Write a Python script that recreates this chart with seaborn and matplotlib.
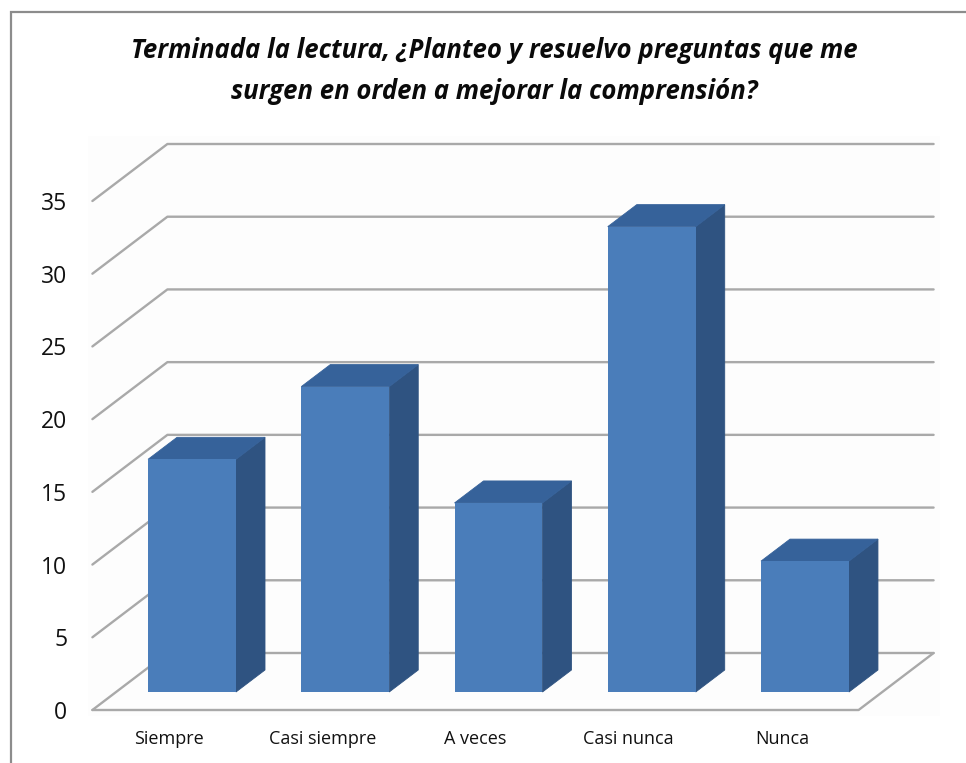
import matplotlib
matplotlib.use("Agg")
import matplotlib.pyplot as plt
import pandas as pd
import seaborn as sns
from matplotlib.lines import Line2D
from matplotlib.patches import Polygon, Rectangle
from matplotlib.transforms import Affine2D, IdentityTransform

categories = ["Siempre", "Casi siempre", "A veces", "Casi nunca", "Nunca"]
values = [16, 21, 13, 32, 9]
y_ticks = [0, 5, 10, 15, 20, 25, 30, 35]
title = ("Terminada la lectura, ¿Planteo y resuelvo preguntas que me\n"
         "surgen en orden a mejorar la comprensión?")

W, H = 966, 763
FRONT = "#4a7dba"
SIDE = "#2f5381"
TOP = "#36629a"
GRID = "#a9a9a9"

sns.set_theme(style="white")
plt.rcParams["font.family"] = ["Open Sans", "DejaVu Sans"]

fig = plt.figure(figsize=(W / 100, H / 100), dpi=100, facecolor="white")
# axes = plane of the bar fronts, in pixels from the top left
left, right, bottom, top = 115.4, 881.6, 692, 183
ax = fig.add_axes([left / W, 1 - bottom / H, (right - left) / W, (bottom - top) / H])
ax.patch.set_alpha(0)

data = pd.DataFrame({"cat": categories, "val": values})
sns.barplot(data=data, x="cat", y="val", color=FRONT, saturation=1, width=0.574,
            ax=ax, zorder=5, linewidth=0, edgecolor="none")
ax.set_xlim(-0.5, 4.5)
ax.set_ylim(0, 35)
ax.set_xlabel("")
ax.set_ylabel("")
sns.despine(ax=ax, left=True, bottom=True, top=True, right=True)
ax.set_yticks(y_ticks)
ax.set_yticklabels([str(t) for t in y_ticks])
ax.tick_params(axis="both", length=0, pad=0)
ax.tick_params(axis="y", labelsize=16.5, labelcolor="#111111")
ax.tick_params(axis="x", labelsize=13, labelcolor="#111111")

# tick labels sit on the front edge of the floor, not on the bar plane
for lab in ax.get_yticklabels():
    lab.set_transform(lab.get_transform() + Affine2D().translate(-48, -18))
for lab in ax.get_xticklabels():
    lab.set_transform(lab.get_transform() + Affine2D().translate(-23, -38))


def px(x, y, dx=0, dy=0):
    a, b = ax.transData.transform((x, y))
    return a + dx, b + dy


ident = IdentityTransform()

# faint wall background
fig.add_artist(Rectangle((88, H - 716), 852, 580, transform=ident, fc="#fdfdfd", ec="none", zorder=-5))

# grid lines: front left -> back left -> back right
front = (-23, -18)
back = (52, 39)
for t in y_ticks:
    p0 = px(-0.5, t, *front)
    p1 = px(-0.5, t, *back)
    p2 = px(4.5, t, *back)
    ax.add_line(Line2D([p0[0], p1[0], p2[0]], [p0[1], p1[1], p2[1]], transform=ident,
                       color=GRID, lw=1.7, zorder=1, clip_on=False))

# floor
p0 = px(4.5, 0, *back)
p1 = px(4.5, 0, *front)
p2 = px(-0.5, 0, *front)
ax.add_line(Line2D([p0[0], p1[0], p2[0]], [p0[1], p1[1], p2[1]], transform=ident,
                   color=GRID, lw=1.7, zorder=1, clip_on=False))

# side and top faces of every bar, from the bars seaborn drew
depth_x, depth_y = 29, 22
for bar in ax.patches:
    x0, x1 = bar.get_x(), bar.get_x() + bar.get_width()
    h = bar.get_height()
    bl, br = px(x0, h), px(x1, h)
    fb = px(x1, 0)
    side = [br, (br[0] + depth_x, br[1] + depth_y), (fb[0] + depth_x, fb[1] + depth_y), fb]
    roof = [bl, br, (br[0] + depth_x, br[1] + depth_y), (bl[0] + depth_x, bl[1] + depth_y)]
    ax.add_patch(Polygon(side, closed=True, transform=ident, fc=SIDE, ec=SIDE, lw=0.6, zorder=4, clip_on=False))
    ax.add_patch(Polygon(roof, closed=True, transform=ident, fc=TOP, ec=TOP, lw=0.6, zorder=4, clip_on=False))

fig.text(494 / W, 1 - 71 / H, title, ha="center", va="center", fontsize=18.5,
         fontweight="bold", fontstyle="italic", color="#0a0a0a", linespacing=1.68)

# picture frame, cut off by the right and bottom edges
fig.add_artist(Rectangle((11, -20), W, H - 12 + 20, transform=ident, fc="none", ec="#8c8c8c", lw=1.6))

fig.savefig("out.png", dpi=100)
